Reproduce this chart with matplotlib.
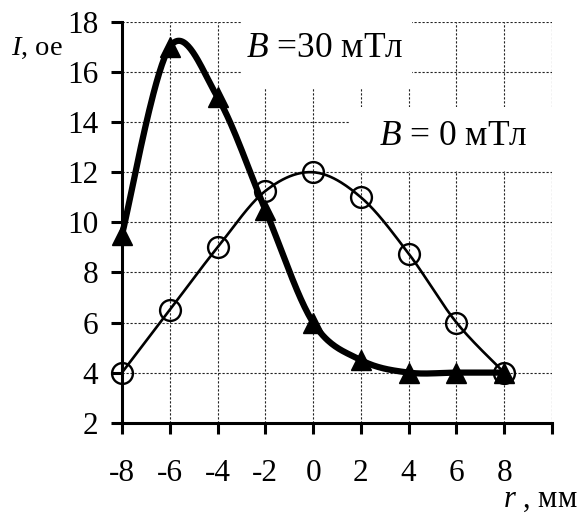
import numpy as np
import matplotlib
matplotlib.use("Agg")
import matplotlib.pyplot as plt
from matplotlib.patches import Rectangle

plt.rcParams['font.family'] = ['Liberation Serif', 'DejaVu Serif']
plt.rcParams['mathtext.fontset'] = 'custom'
plt.rcParams['mathtext.rm'] = 'Liberation Serif'
plt.rcParams['mathtext.it'] = 'Liberation Serif:italic'

# Radial position, mm
r_mm = [-8, -6, -4, -2, 0, 2, 4, 6, 8]
# Intensity without field (B = 0 mT)
i_b0 = [4, 6.5, 9, 11.25, 12, 11, 8.75, 6, 4]
# Intensity with field (B = 30 mT)
i_b30 = [9.5, 17, 15, 10.5, 6, 4.5, 4, 4, 4]

x_ticks = [-8, -6, -4, -2, 0, 2, 4, 6, 8, 10]
x_tick_labels = ['-8', '-6', '-4', '-2', '0', '2', '4', '6', '8', '']
y_ticks = [2, 4, 6, 8, 10, 12, 14, 16, 18]
y_tick_labels = ['2', '4', '6', '8', '10', '12', '14', '16', '18']


def smooth(xs, ys, n=40):
    """Catmull-Rom spline through the points (spreadsheet-style smoothed line)."""
    p = np.column_stack([xs, ys]).astype(float)
    p = np.vstack([p[0], p, p[-1]])
    out = []
    t = np.linspace(0, 1, n)[:, None]
    for k in range(1, len(p) - 2):
        p0, p1, p2, p3 = p[k - 1], p[k], p[k + 1], p[k + 2]
        m1 = (p2 - p0) / 2
        m2 = (p3 - p1) / 2
        h00 = 2 * t**3 - 3 * t**2 + 1
        h10 = t**3 - 2 * t**2 + t
        h01 = -2 * t**3 + 3 * t**2
        h11 = t**3 - t**2
        seg = h00 * p1 + h10 * m1 + h01 * p2 + h11 * m2
        out.append(seg if k == 1 else seg[1:])
    out = np.vstack(out)
    return out[:, 0], out[:, 1]


fig = plt.figure(figsize=(5.8, 5.18), dpi=100)
ax = fig.add_axes([0.2103, 0.184, 0.7414, 0.7736])
ax.set_xlim(-8, 10)
ax.set_ylim(2, 18)

ax.set_axisbelow(True)
ax.grid(True, color='#222222', linewidth=0.8, linestyle=(0, (2, 1.6)))

# white patches behind the annotations
ax.add_patch(Rectangle((-2.96, 15.32), 7.08, 2.9, facecolor='white',
                       edgecolor='none', zorder=1, clip_on=False))
ax.add_patch(Rectangle((1.54, 12.06), 8.7, 2.55, facecolor='white',
                       edgecolor='none', zorder=1, clip_on=False))

sx, sy = smooth(r_mm, i_b0)
ax.plot(sx, sy, color='black', linewidth=1.9, zorder=3, clip_on=False)
ax.plot(r_mm, i_b0, linestyle='none', marker='o', markersize=15,
        markerfacecolor='none', markeredgecolor='black', markeredgewidth=1.7,
        zorder=4, clip_on=False)

sx, sy = smooth(r_mm, i_b30)
ax.plot(sx, sy, color='black', linewidth=4.5, zorder=5, clip_on=False,
        solid_capstyle='butt')
ax.plot(r_mm, i_b30, linestyle='none', marker='^', markersize=14,
        markerfacecolor='black', markeredgecolor='black', zorder=6,
        clip_on=False)

for s in ['top', 'right']:
    ax.spines[s].set_visible(False)
for s in ['left', 'bottom']:
    ax.spines[s].set_linewidth(2.2)
    ax.spines[s].set_zorder(7)

ax.set_xticks(x_ticks)
ax.set_xticklabels(x_tick_labels)
ax.set_yticks(y_ticks)
ax.set_yticklabels(y_tick_labels)
ax.tick_params(axis='x', direction='out', length=8, width=2.2, pad=18.5,
               labelsize=22.5)
ax.tick_params(axis='y', direction='out', length=8, width=2.2, pad=9,
               labelsize=22.5)

ax.text(-2.80, 16.6, r'$B$ =30 мТл', fontsize=25.5, ha='left',
        va='baseline', zorder=8)
ax.text(2.75, 13.1, r'$B$ = 0 мТл', fontsize=25.5, ha='left',
        va='baseline', zorder=8)

fig.text(0.019, 0.894, r'$I$, oe', fontsize=20.5, ha='left', va='baseline')
fig.text(0.867, 0.021, r'$r$ , мм', fontsize=22, ha='left', va='baseline')

fig.savefig('out.png', dpi=100)
